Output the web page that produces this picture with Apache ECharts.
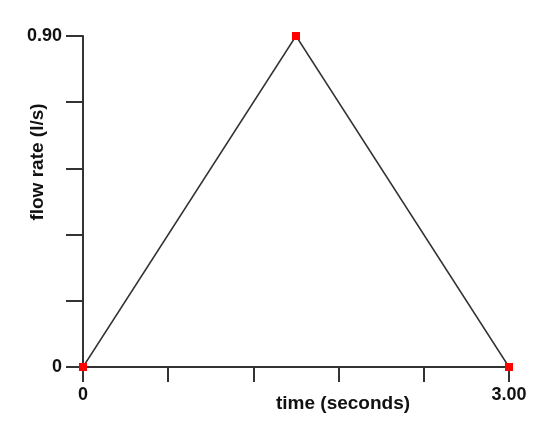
<!DOCTYPE html>
<html>
<head>
<meta charset="utf-8">
<script src="https://cdn.jsdelivr.net/npm/echarts@6/dist/echarts.min.js"></script>
<style>
  html, body { margin: 0; padding: 0; background: #fff; }
  #chart { width: 550px; height: 427px; }
</style>
</head>
<body>
<div id="chart"></div>
<script>
// time (s) and flow rate (l/s)
const times = [0, 1.5, 3]
const flows = [0, 0.9, 0]
const xLabels = { 0: '0', 3: '3.00' }
const yLabels = { 0: '0', 0.9: '0.90' }

const chart = echarts.init(document.getElementById('chart'))
const font = 'Liberation Sans, Arial, sans-serif'
const axisColor = '#333'

chart.setOption({
  backgroundColor: '#fff',
  animation: false,
  grid: { left: 83, right: 41, top: 36, bottom: 60 },
  xAxis: {
    type: 'value', min: 0, max: 3, interval: 0.6,
    axisLine: { lineStyle: { color: axisColor, width: 2 } },
    axisTick: { length: 15, lineStyle: { color: axisColor, width: 2 } },
    splitLine: { show: false },
    axisLabel: {
      margin: 19, color: '#111', fontFamily: font, fontWeight: 'bold', fontSize: 18,
      showMinLabel: true, showMaxLabel: true,
      formatter: v => xLabels[Math.round(v * 100) / 100] ?? ''
    }
  },
  yAxis: {
    type: 'value', min: 0, max: 0.9, interval: 0.18,
    axisLine: { show: true, lineStyle: { color: axisColor, width: 2 } },
    axisTick: { show: true, length: 17, lineStyle: { color: axisColor, width: 2 } },
    splitLine: { show: false },
    axisLabel: {
      margin: 21, color: '#111', fontFamily: font, fontWeight: 'bold', fontSize: 18,
      formatter: v => yLabels[Math.round(v * 100) / 100] ?? ''
    }
  },
  graphic: [
    { type: 'text', left: 276, top: 394,
      style: { text: 'time (seconds)', fill: '#111', font: 'bold 19px ' + font } },
    { type: 'text', x: 38, y: 162, rotation: Math.PI / 2,
      style: { text: 'flow rate (l/s)', fill: '#111', font: 'bold 19px ' + font, align: 'center', verticalAlign: 'middle' } }
  ],
  series: [{
    type: 'line',
    data: times.map((t, i) => [t, flows[i]]),
    symbol: 'rect', symbolSize: 8,
    itemStyle: { color: '#ff0000' },
    lineStyle: { color: '#333', width: 1.5 }
  }]
})
</script>
</body>
</html>
